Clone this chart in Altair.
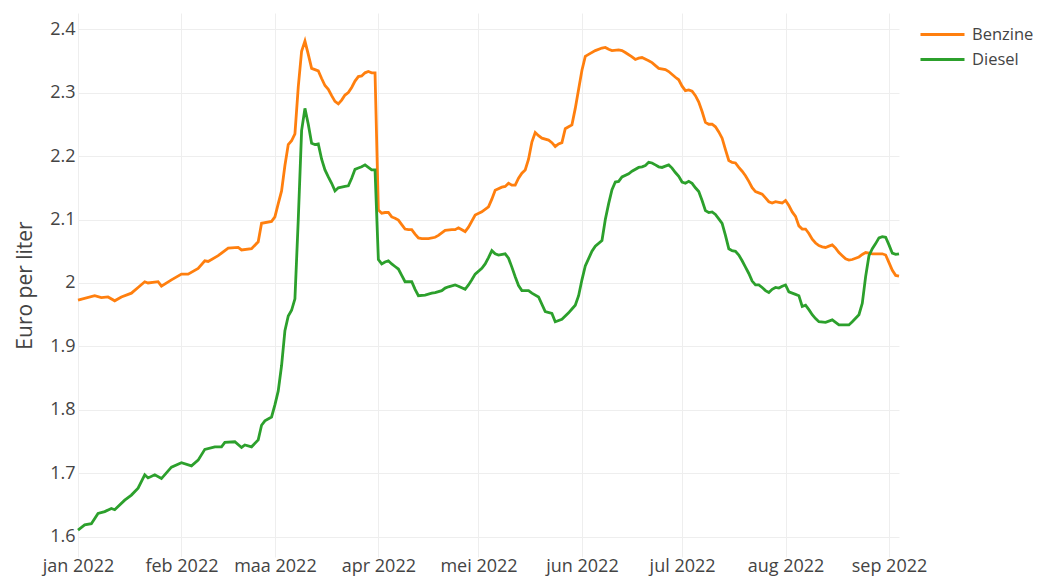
import altair as alt
import pandas as pd

# Tick labels (Dutch month abbreviations) and tick positions
month_labels = ["jan", "feb", "maa", "apr", "mei", "jun", "jul", "aug", "sep", "okt", "nov", "dec"]
tick_months = [1, 2, 3, 4, 5, 6, 7, 8, 9]
y_ticks = [1.6, 1.7, 1.8, 1.9, 2.0, 2.1, 2.2, 2.3, 2.4]
series_names = ["Benzine", "Diesel"]
series_colors = ["#ff7f0e", "#2ca02c"]

# Days since 1 Jan 2022 and price (euro per liter)
benzine_day = [0, 5, 7, 9, 11, 13, 16, 18, 20, 21, 24, 25, 28, 31, 33, 36, 38, 39, 42, 45, 48, 49, 52, 54, 55, 58,
               59, 60, 61, 62, 63, 64, 65, 66, 67, 68, 69, 70, 71, 72, 73, 74, 75, 76, 77, 78, 79, 80, 81, 82, 83,
               84, 85, 86, 87, 88, 89, 90, 91, 92, 93, 94, 95, 96, 97, 98, 99, 100, 101, 102, 103, 105, 107, 108,
               110, 112, 113, 114, 116, 117, 119, 121, 123, 124, 125, 127, 128, 129, 130, 131, 132, 133, 134, 135,
               136, 137, 138, 139, 141, 142, 143, 144, 145, 146, 147, 148, 149, 150, 151, 152, 153, 155, 157, 158,
               159, 160, 162, 163, 164, 166, 167, 168, 169, 171, 172, 174, 176, 177, 179, 180, 181, 182, 183, 184,
               185, 186, 187, 188, 189, 190, 191, 192, 193, 194, 195, 196, 197, 198, 199, 200, 201, 202, 203, 204,
               205, 206, 207, 208, 209, 210, 211, 212, 213, 214, 215, 216, 217, 218, 219, 220, 221, 222, 223, 224,
               225, 226, 227, 228, 229, 230, 231, 232, 233, 234, 235, 236, 237, 238, 240, 241, 242, 243, 244, 245,
               246]
benzine_price = [1.973, 1.980, 1.977, 1.978, 1.972, 1.978, 1.984, 1.993, 2.002, 2.000, 2.002, 1.995, 2.005, 2.014,
                 2.014, 2.023, 2.035, 2.034, 2.043, 2.055, 2.056, 2.052, 2.054, 2.065, 2.094, 2.097,
                 2.104, 2.125, 2.145, 2.185, 2.218, 2.224, 2.235, 2.309, 2.365, 2.381, 2.360, 2.338, 2.336, 2.334,
                 2.322, 2.311, 2.305, 2.295, 2.286, 2.282, 2.288, 2.296, 2.300, 2.308, 2.318,
                 2.325, 2.326, 2.331, 2.333, 2.331, 2.331, 2.115, 2.110, 2.111, 2.111, 2.104, 2.102, 2.099, 2.092,
                 2.085, 2.084, 2.084, 2.077, 2.071, 2.070, 2.070, 2.072, 2.075,
                 2.083, 2.084, 2.084, 2.087, 2.081, 2.088, 2.107, 2.112, 2.120, 2.132, 2.146, 2.151, 2.152, 2.157,
                 2.154, 2.154, 2.165, 2.173, 2.178, 2.195,
                 2.222, 2.237, 2.232, 2.228, 2.225, 2.221, 2.215, 2.219, 2.221, 2.243, 2.246, 2.249, 2.275, 2.305,
                 2.335, 2.357, 2.360, 2.366, 2.370, 2.371,
                 2.368, 2.366, 2.367, 2.366, 2.363, 2.356, 2.352, 2.354, 2.355, 2.350, 2.347, 2.338, 2.336, 2.333,
                 2.324, 2.320, 2.310, 2.303, 2.304, 2.302,
                 2.295, 2.285, 2.270, 2.253, 2.250, 2.250, 2.246, 2.238, 2.228, 2.210, 2.193, 2.190, 2.189, 2.182,
                 2.176, 2.169, 2.160, 2.150, 2.144, 2.142,
                 2.140, 2.134, 2.128, 2.126, 2.128, 2.127, 2.126, 2.130, 2.122, 2.112, 2.105, 2.090, 2.085, 2.085,
                 2.078, 2.069, 2.063, 2.059, 2.057, 2.056,
                 2.058, 2.060, 2.055, 2.048, 2.043, 2.038, 2.036, 2.037, 2.039, 2.041, 2.045, 2.048, 2.047, 2.046,
                 2.046, 2.046, 2.044, 2.032, 2.020, 2.012,
                 2.011]

diesel_day = [0, 2, 4, 6, 8, 10, 11, 14, 16, 18, 20, 21, 23, 25, 28, 31, 34, 36, 38, 41, 43, 44, 47, 49, 50, 52,
              54, 55, 56, 58, 59, 60, 61, 62, 63, 64, 65, 66, 67, 68, 69, 70, 71, 72, 73, 74, 75, 76, 77, 78, 79,
              80, 81, 82, 83, 84, 85, 86, 87, 88, 89, 90, 91, 92, 93, 94, 95, 96, 97, 98, 99, 100, 101, 102, 104,
              106, 107, 109, 110, 111, 113, 114, 116, 117, 118, 119, 121, 122, 123, 124, 125, 126, 128, 129, 130,
              131, 132, 133, 135, 136, 138, 140, 142, 143, 145, 147, 148, 149, 150, 151, 152, 154, 155, 157, 158,
              159, 160, 161, 162, 163, 165, 166, 168, 169, 170, 171, 172, 173, 174, 175, 176, 177, 178, 179, 180,
              181, 182, 183, 184, 185, 186, 187, 188, 189, 190, 191, 192, 193, 194, 195, 196, 197, 198, 199, 200,
              201, 202, 203, 204, 205, 206, 207, 208, 209, 210, 211, 212, 213, 215, 216, 217, 218, 219, 220, 221,
              222, 224, 226, 228, 231, 232, 234, 235, 236, 237, 238, 239, 240, 241, 242, 243, 244, 245, 246]
diesel_price = [1.611, 1.619, 1.621, 1.637, 1.640, 1.645, 1.643, 1.658, 1.666, 1.677, 1.698, 1.693, 1.698, 1.692,
                1.710, 1.717, 1.712, 1.721, 1.738, 1.742, 1.742, 1.749, 1.750, 1.741, 1.745, 1.742,
                1.753, 1.776, 1.783, 1.789, 1.808, 1.830, 1.870, 1.925, 1.948, 1.957, 1.975, 2.100, 2.240, 2.275,
                2.250, 2.220, 2.218, 2.219, 2.195, 2.178, 2.167, 2.157, 2.145, 2.150, 2.151,
                2.152, 2.153, 2.165, 2.179, 2.181, 2.183, 2.186, 2.182, 2.178, 2.178, 2.037, 2.030, 2.033, 2.035,
                2.030, 2.026, 2.022, 2.012, 2.002, 2.002, 2.002, 1.990, 1.980, 1.981,
                1.984, 1.985, 1.988, 1.992, 1.994, 1.997, 1.995, 1.990, 1.997, 2.005, 2.014, 2.023, 2.030, 2.040,
                2.051, 2.046, 2.044, 2.046, 2.039, 2.025,
                2.010, 1.996, 1.988, 1.988, 1.984, 1.978, 1.955, 1.952, 1.939, 1.943, 1.953, 1.959, 1.965, 1.980,
                2.005, 2.027, 2.050, 2.058, 2.067, 2.100,
                2.125, 2.147, 2.159, 2.160, 2.167, 2.172, 2.176, 2.182, 2.183, 2.185, 2.190, 2.189, 2.186, 2.183,
                2.182, 2.184, 2.186, 2.181, 2.174, 2.168,
                2.159, 2.157, 2.160, 2.157, 2.150, 2.144, 2.130, 2.114, 2.111, 2.112, 2.108, 2.101, 2.094, 2.075,
                2.054, 2.051, 2.050, 2.044, 2.035, 2.025,
                2.015, 2.003, 1.997, 1.997, 1.993, 1.988, 1.985, 1.990, 1.993, 1.992, 1.995, 1.997, 1.986, 1.982,
                1.980, 1.963, 1.965, 1.958, 1.950, 1.944,
                1.939, 1.938, 1.942, 1.934, 1.934, 1.939, 1.950, 1.968, 2.010, 2.043, 2.054, 2.062, 2.071, 2.073,
                2.072, 2.060, 2.047, 2.045, 2.046]

start = pd.Timestamp("2022-01-01")


def frame(days, prices, name):
    dates = (start + pd.to_timedelta(days, unit="D")).strftime("%Y-%m-%d")
    return pd.DataFrame({"datum": list(dates), "prijs": prices, "brandstof": name})


df = pd.concat([frame(benzine_day, benzine_price, series_names[0]),
                frame(diesel_day, diesel_price, series_names[1])], ignore_index=True)

font = "Open Sans"
text_color = "#444444"
label_expr = str(month_labels) + "[utcmonth(datum.value)] + ' ' + utcyear(datum.value)"

x_axis = alt.Axis(
    values=[alt.DateTime(year=2022, month=m, date=1, utc=True) for m in tick_months],
    labelExpr=label_expr,
    title=None, grid=True, gridColor="#eeeeee", gridWidth=1,
    domain=False, ticks=False, tickSize=0,
    labelFont=font, labelFontSize=18, labelColor=text_color, labelPadding=0,
    labelOverlap=False, labelFlush=False,
)
y_axis = alt.Axis(
    values=y_ticks, format=".1~f",
    title="Euro per liter", titleFont=font, titleFontSize=21, titleFontWeight="normal",
    titleColor=text_color, titleAngle=270, titleAlign="center", titleBaseline="alphabetic",
    titleX=-47, titleY=272,
    grid=True, gridColor="#eeeeee", gridWidth=1,
    domain=False, ticks=False, tickSize=0,
    labelFont=font, labelFontSize=18, labelColor=text_color, labelPadding=3,
)

chart = alt.Chart(df).mark_line(strokeWidth=2.8).encode(
    x=alt.X("datum:T", axis=x_axis,
            scale=alt.Scale(type="utc",
                            domain=[alt.DateTime(year=2022, month=1, date=1, utc=True),
                                    alt.DateTime(year=2022, month=9, date=4, utc=True)])),
    y=alt.Y("prijs:Q", axis=y_axis,
            scale=alt.Scale(domain=[1.5685, 2.4252], nice=False, zero=False)),
    color=alt.Color("brandstof:N",
                    scale=alt.Scale(domain=series_names, range=series_colors),
                    legend=alt.Legend(orient="none", legendX=841, legendY=9, title=None,
                                      symbolType="stroke", symbolSize=1936, symbolStrokeWidth=3,
                                      labelFont=font, labelFontSize=16.5, labelColor=text_color,
                                      labelOffset=6, clipHeight=25, rowPadding=0, padding=0)),
).properties(
    width=821, height=544,
    autosize=alt.AutoSizeParams(type="none"),
    padding={"left": 70, "top": 5, "right": 134, "bottom": 20},
).configure_view(stroke=None)

chart.save("out.html", embed_options={"renderer": "svg", "actions": False})
